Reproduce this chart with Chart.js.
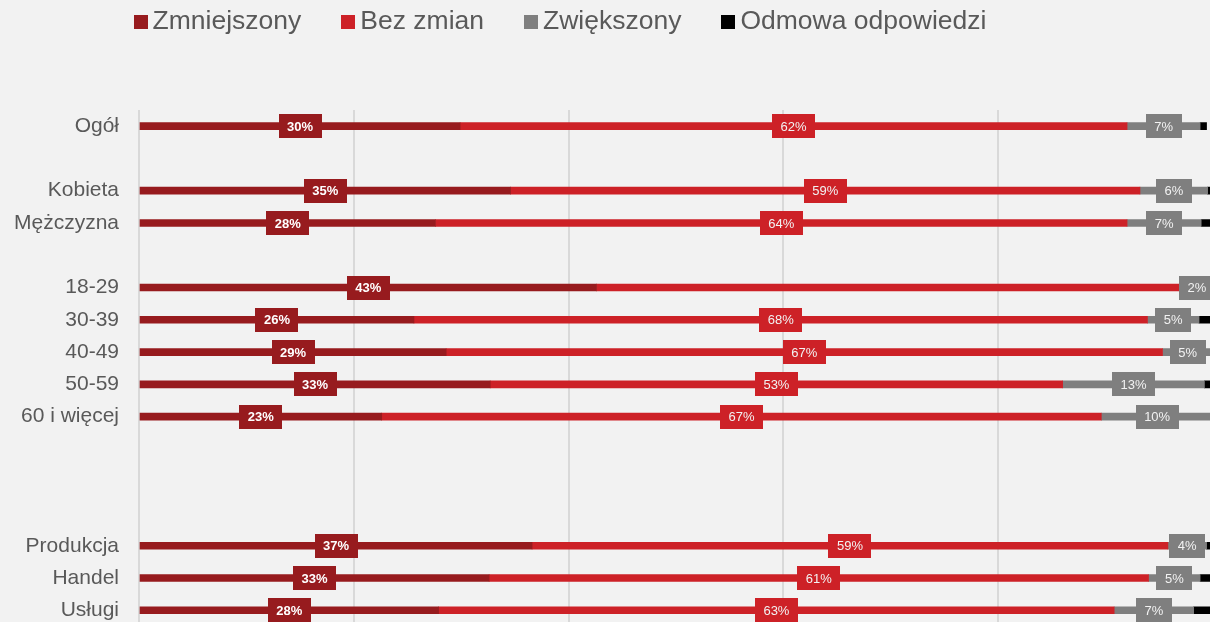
<!DOCTYPE html>
<html>
<head>
<meta charset="utf-8">
<script src="https://cdn.jsdelivr.net/npm/chart.js@4.4.1/dist/chart.umd.min.js"></script>
<style>
  html, body { margin: 0; padding: 0; background: #f2f2f2; overflow: hidden; }
  #wrap { width: 1210px; height: 622px; overflow: hidden; position: relative; }
  #box { position: absolute; left: 0; top: 0; width: 1213px; height: 659px; }
  canvas { display: block; }
</style>
</head>
<body>
<div id="wrap"><div id="box"><canvas id="c"></canvas></div></div>
<script>
const categories = ['Ogół', '', 'Kobieta', 'Mężczyzna', '', '18-29', '30-39', '40-49', '50-59', '60 i więcej', '', '', '', 'Produkcja', 'Handel', 'Usługi'];
const zmniejszony = [29.9, null, 34.6, 27.6, null, 42.6, 25.6, 28.6, 32.7, 22.6, null, null, null, 36.6, 32.6, 27.9];
const bezZmian    = [62.1, null, 58.6, 64.4, null, 54.7, 68.3, 66.7, 53.3, 67.0, null, null, null, 59.2, 61.4, 62.9];
const zwiekszony  = [6.8,  null, 6.3,  6.9,  null, 2.4,  4.8,  4.7,  13.2, 10.4, null, null, null, 3.6,  4.8,  7.4];
const odmowa      = [0.6,  null, 0.6,  1.1,  null, 0.3,  1.3,  0.0,  0.8,  0.0,  null, null, null, 0.6,  1.2,  1.8];
const seriesNames = ['Zmniejszony', 'Bez zmian', 'Zwiększony', 'Odmowa odpowiedzi'];
const xTicks = [0, 20, 40, 60, 80, 100];
// labels not shown in the original: [categoryIndex, datasetIndex]
const hiddenLabels = [[5, 1]];

const colors = ['#971b1e', '#cd2127', '#7f7f7f', '#000000'];
const FONT = '"Liberation Sans", Arial, sans-serif';

const barLabelPlugin = {
  id: 'barLabels',
  afterDatasetsDraw(chart) {
    const ctx = chart.ctx;
    ctx.save();
    chart.data.datasets.forEach((ds, di) => {
      if (di === 3) return;
      const meta = chart.getDatasetMeta(di);
      meta.data.forEach((bar, i) => {
        const v = ds.data[i];
        if (v == null) return;
        if (hiddenLabels.some(h => h[0] === i && h[1] === di)) return;
        const p = bar.getProps(['x', 'y', 'base'], true);
        const cx = (p.x + p.base) / 2;
        const txt = Math.round(v) + '%';
        ctx.font = (di === 0 ? 'bold ' : '') + '13px ' + FONT;
        const tw = ctx.measureText(txt).width;
        const w = tw + 17, h = 24;
        ctx.fillStyle = colors[di];
        ctx.fillRect(Math.round(cx - w / 2), Math.round(p.y - h / 2), Math.round(w), h);
        ctx.fillStyle = di === 0 ? '#ffffff' : '#f2f2f2';
        ctx.textAlign = 'center';
        ctx.textBaseline = 'middle';
        ctx.fillText(txt, cx, p.y + 1);
      });
    });
    ctx.restore();
  }
};

const legendPlugin = {
  id: 'customLegend',
  afterDraw(chart) {
    const ctx = chart.ctx;
    ctx.save();
    ctx.font = '26.5px ' + FONT;
    const box = 14, gapText = 5, gapItem = 40;
    const items = chart.data.datasets.map(d => ({ label: d.label, color: d.backgroundColor, w: ctx.measureText(d.label).width }));
    const total = items.reduce((s, it) => s + box + gapText + it.w, 0) + gapItem * (items.length - 1);
    let x = 560 - total / 2;
    items.forEach(it => {
      ctx.fillStyle = it.color;
      ctx.fillRect(Math.round(x), 15, box, box);
      ctx.fillStyle = '#595959';
      ctx.textAlign = 'left';
      ctx.textBaseline = 'alphabetic';
      ctx.fillText(it.label, x + box + gapText, 29);
      x += box + gapText + it.w + gapItem;
    });
    ctx.restore();
  }
};

const bgPlugin = {
  id: 'bg',
  beforeDraw(chart) {
    const ctx = chart.ctx;
    ctx.save();
    ctx.fillStyle = '#f2f2f2';
    ctx.fillRect(0, 0, chart.width, chart.height);
    ctx.restore();
  }
};

const seriesData = [zmniejszony, bezZmian, zwiekszony, odmowa];

new Chart(document.getElementById('c'), {
  type: 'bar',
  data: {
    labels: categories,
    datasets: seriesData.map((d, i) => ({
      label: seriesNames[i],
      data: d,
      backgroundColor: colors[i],
      borderWidth: 0,
      barThickness: 7
    }))
  },
  options: {
    indexAxis: 'y',
    responsive: true,
    maintainAspectRatio: false,
    animation: false,
    devicePixelRatio: 1,
    layout: { padding: { top: 110, left: 0, right: 0, bottom: 0 } },
    plugins: {
      legend: { display: false },
      tooltip: { enabled: false }
    },
    scales: {
      x: {
        stacked: true,
        min: 0,
        max: 100,
        afterBuildTicks(scale) { scale.ticks = xTicks.map(v => ({ value: v })); },
        ticks: { display: false },
        grid: { color: '#d9d9d9', lineWidth: 2, drawTicks: false },
        border: { display: false },
        afterFit(scale) { scale.height = 0; }
      },
      y: {
        stacked: true,
        grid: { display: false, drawTicks: false },
        border: { display: false },
        ticks: {
          padding: 20,
          color: '#595959',
          font: { family: FONT, size: 21 },
          autoSkip: false
        },
        afterFit(scale) { scale.width = 139; }
      }
    }
  },
  plugins: [bgPlugin, barLabelPlugin, legendPlugin]
});
</script>
</body>
</html>
